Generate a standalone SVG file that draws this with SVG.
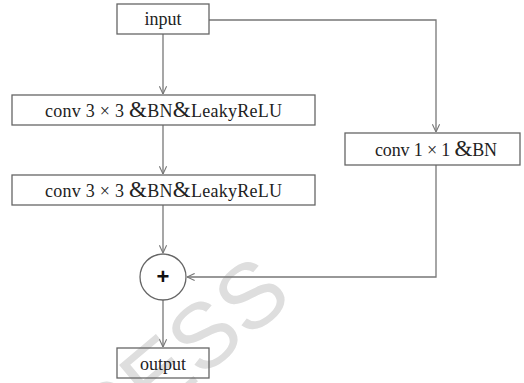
<svg xmlns="http://www.w3.org/2000/svg" width="524" height="383" viewBox="0 0 524 383">
  <style>
    .box { fill: none; stroke: #666; stroke-width: 1.3; }
    .lbl { font-family: "Liberation Serif", "Times New Roman", serif; font-size: 18px; fill: #222; text-anchor: middle; }
    .amp { font-size: 23px; }
    .wire { fill: none; stroke: #777; stroke-width: 1.3; }
    .wm { font-family: "Liberation Sans", Arial, sans-serif; font-size: 92px; fill: #dedede; }
  </style>
  <defs>
    <marker id="arrow" viewBox="0 0 10 10" refX="9.5" refY="5" markerWidth="9" markerHeight="9" markerUnits="userSpaceOnUse" orient="auto">
      <path d="M1,1 L9.5,5 L1,9" fill="none" stroke="#777" stroke-width="1.2"/>
    </marker>
  </defs>
  <rect width="524" height="383" fill="#fff"/>

  <!-- faint background watermark -->
  <text class="wm" transform="translate(295 300) rotate(-40)" text-anchor="end">PRESS</text>

  <g id="connectors">
    <path class="wire" d="M163,34 V94" marker-end="url(#arrow)"/>
    <path class="wire" d="M163,125 V174" marker-end="url(#arrow)"/>
    <path class="wire" d="M163,205 V253" marker-end="url(#arrow)"/>
    <path class="wire" d="M209,20 H436 V132" marker-end="url(#arrow)"/>
    <path class="wire" d="M436,165 V277 H187" marker-end="url(#arrow)"/>
    <path class="wire" d="M163,300 V347" marker-end="url(#arrow)"/>
  </g>

  <g id="input">
    <rect class="box" x="117" y="4" width="92" height="30"/>
    <text class="lbl" x="163" y="25">input</text>
  </g>

  <g id="conv3x3-1">
    <rect class="box" x="12" y="95" width="303" height="30"/>
    <text class="lbl" x="163.5" y="117" textLength="237" lengthAdjust="spacing">conv 3 × 3 <tspan class="amp">&amp;</tspan>BN<tspan class="amp">&amp;</tspan>LeakyReLU</text>
  </g>

  <g id="conv3x3-2">
    <rect class="box" x="12" y="175" width="303" height="30"/>
    <text class="lbl" x="163.5" y="197" textLength="237" lengthAdjust="spacing">conv 3 × 3 <tspan class="amp">&amp;</tspan>BN<tspan class="amp">&amp;</tspan>LeakyReLU</text>
  </g>

  <g id="conv1x1">
    <rect class="box" x="345" y="133" width="175" height="32"/>
    <text class="lbl" x="436" y="156" textLength="122" lengthAdjust="spacing">conv 1 × 1 <tspan class="amp">&amp;</tspan>BN</text>
  </g>

  <g id="add">
    <circle class="box" cx="163" cy="277" r="23"/>
    <text x="163" y="284" text-anchor="middle" font-family="Liberation Sans, Arial, sans-serif" font-size="22" font-weight="bold" fill="#111">+</text>
  </g>

  <g id="output">
    <rect class="box" x="117" y="348" width="92" height="30"/>
    <text class="lbl" x="163" y="370">output</text>
  </g>
</svg>
